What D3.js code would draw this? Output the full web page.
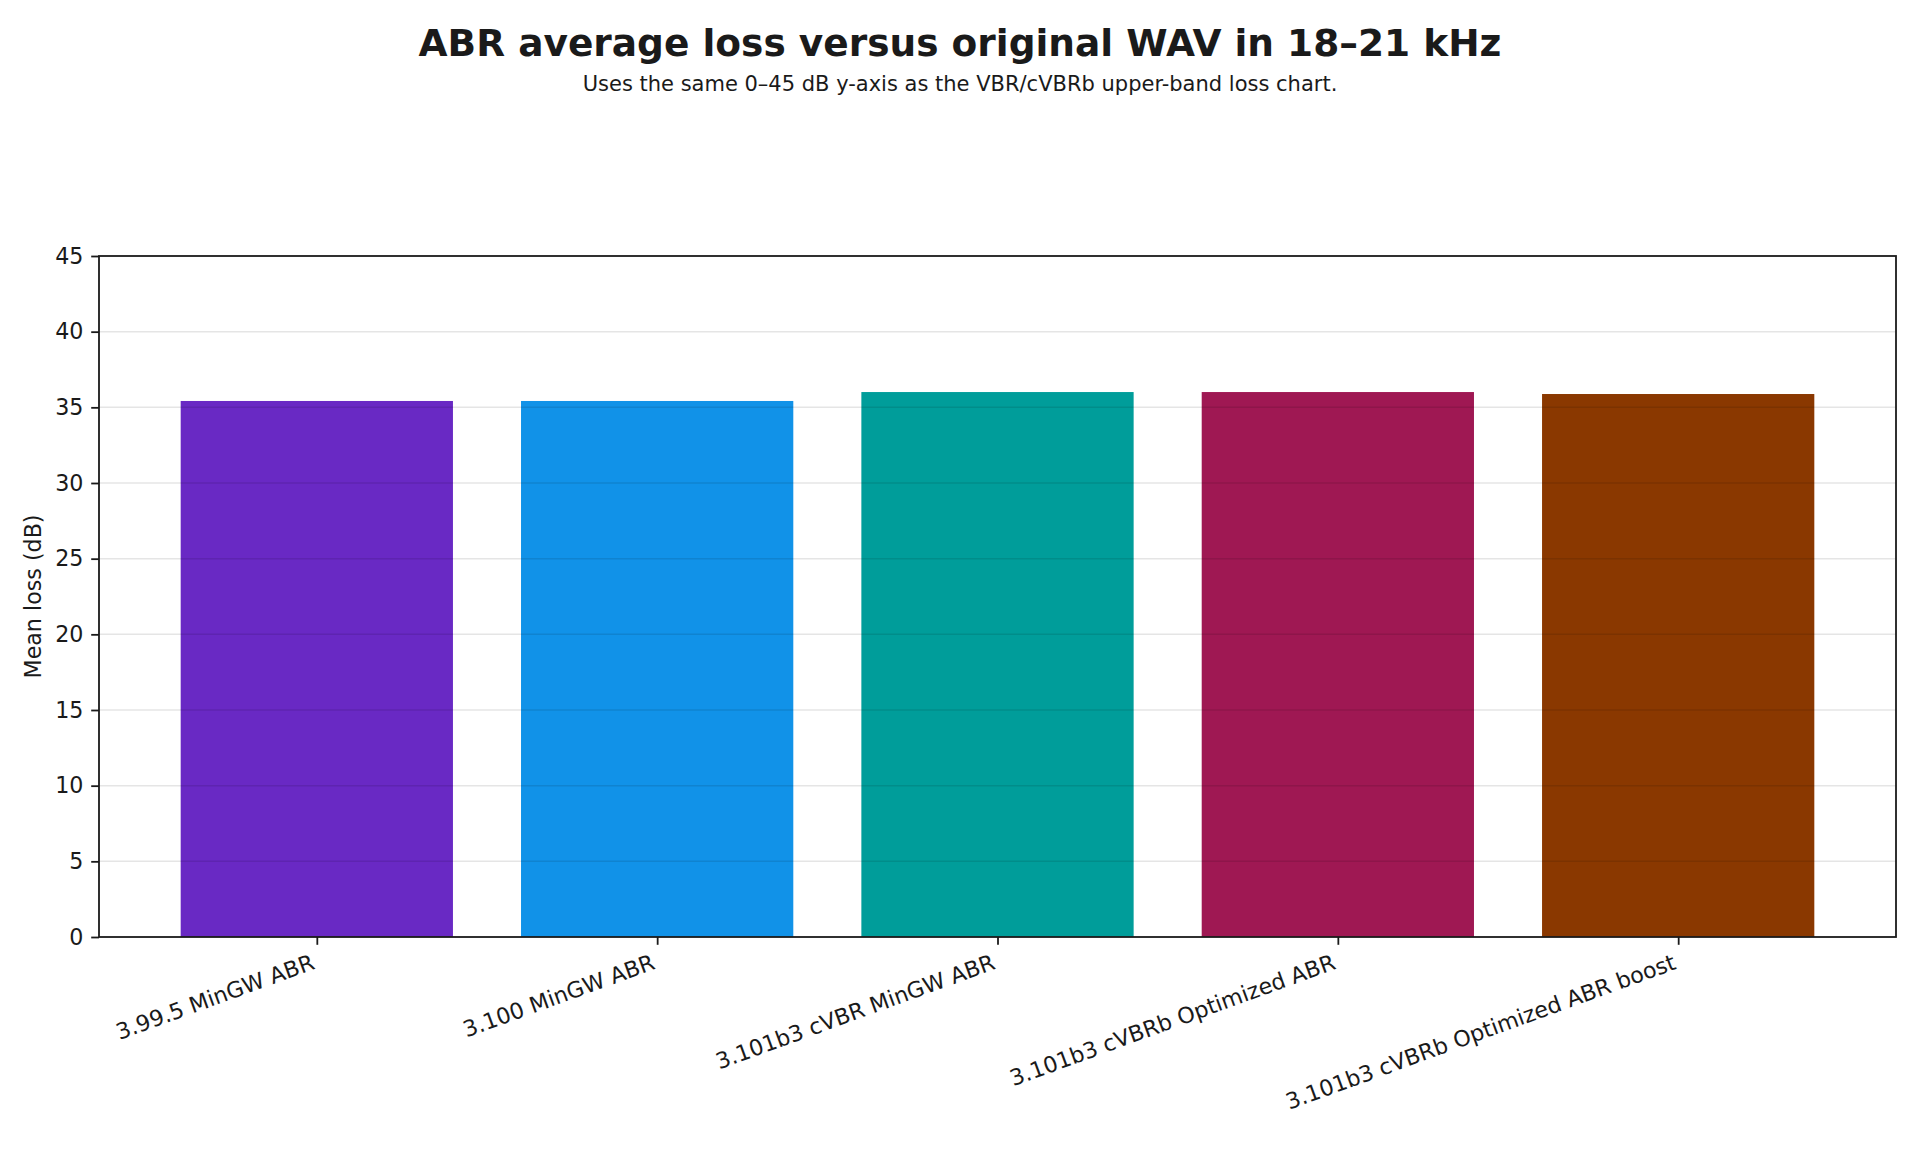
<!DOCTYPE html>
<html><head><meta charset="utf-8">
<script src="https://cdn.jsdelivr.net/npm/d3@7"></script>
<style>body{margin:0;background:#fff}svg{display:block}</style>
</head><body>
<svg id="c" width="1920" height="1152"></svg>
<script>
const categories = ["3.99.5 MinGW ABR","3.100 MinGW ABR","3.101b3 cVBR MinGW ABR","3.101b3 cVBRb Optimized ABR","3.101b3 cVBRb Optimized ABR boost"];
const values = [35.42, 35.42, 36.01, 36.01, 35.88];
const colors = ["#6929c4","#1192e8","#009d9a","#9f1853","#8a3800"];
const yTicks = [0,5,10,15,20,25,30,35,40,45];
const titleText = "ABR average loss versus original WAV in 18\u201321 kHz";
const subtitleText = "Uses the same 0\u201345 dB y-axis as the VBR/cVBRb upper-band loss chart.";
const yLabel = "Mean loss (dB)";

const svg = d3.select("#c");
const L = 99, R = 1896, T = 256, B = 937;
const font = "DejaVu Sans, sans-serif";
const ink = "#1a1a1a";
const fs = 22.2, tl = 7.8, ang = 20, lw = 1.8;

const x = d3.scaleLinear().domain([-0.64, 4.64]).range([L, R]);
const y = d3.scaleLinear().domain([0, 45]).range([B, T]);
const bw = x(0.8) - x(0);

svg.append("g").selectAll("rect").data(values).join("rect")
  .attr("x", (d,i) => x(i - 0.4)).attr("width", bw)
  .attr("y", d => y(d)).attr("height", d => y(0) - y(d))
  .attr("fill", (d,i) => colors[i]);

// grid over bars
svg.append("g").selectAll("line").data(yTicks.filter(t => t>0 && t<45)).join("line")
  .attr("x1", L).attr("x2", R).attr("y1", d => y(d)).attr("y2", d => y(d))
  .attr("stroke", "#000").attr("stroke-opacity", 0.1).attr("stroke-width", 1.5);

// y axis
const yAxis = d3.axisLeft(y).tickValues(yTicks).tickSize(tl).tickPadding(tl).tickFormat(d3.format("d"));
const gy = svg.append("g").attr("transform", `translate(${L},0)`).call(yAxis);
gy.select(".domain").remove();
gy.selectAll("line").attr("stroke", ink).attr("stroke-width", lw);
gy.selectAll("text").attr("font-family", font).attr("font-size", fs).attr("fill", ink);

// x axis
const xAxis = d3.axisBottom(x).tickValues(d3.range(categories.length)).tickSize(tl).tickFormat(() => "");
const gx = svg.append("g").attr("transform", `translate(0,${B})`).call(xAxis);
gx.select(".domain").remove();
gx.selectAll("line").attr("stroke", ink).attr("stroke-width", lw);
gx.selectAll(".tick").each(function(d,i){
  const g = d3.select(this);
  const dx = -fs*0.95*Math.sin(ang*Math.PI/180);
  g.append("text")
    .attr("transform", `translate(${dx},${tl*2}) rotate(${-ang})`)
    .attr("text-anchor", "end").attr("dy", "0.76em")
    .attr("font-family", font).attr("font-size", fs).attr("fill", ink)
    .text(categories[i]);
});

// frame
svg.append("rect").attr("x", L).attr("y", T).attr("width", R-L).attr("height", B-T)
  .attr("fill", "none").attr("stroke", ink).attr("stroke-width", lw);

// y label
svg.append("text").attr("transform", `translate(41,${(T+B)/2}) rotate(-90)`)
  .attr("text-anchor", "middle").attr("font-family", font).attr("font-size", fs).attr("fill", ink)
  .text(yLabel);

svg.append("text").attr("x", 960).attr("y", 56).attr("text-anchor", "middle")
  .attr("font-family", font).attr("font-weight", "bold").attr("font-size", 37.5).attr("fill", ink)
  .text(titleText);
svg.append("text").attr("x", 960).attr("y", 91).attr("text-anchor", "middle")
  .attr("font-family", font).attr("font-size", 21).attr("fill", ink)
  .text(subtitleText);
</script>
</body></html>
